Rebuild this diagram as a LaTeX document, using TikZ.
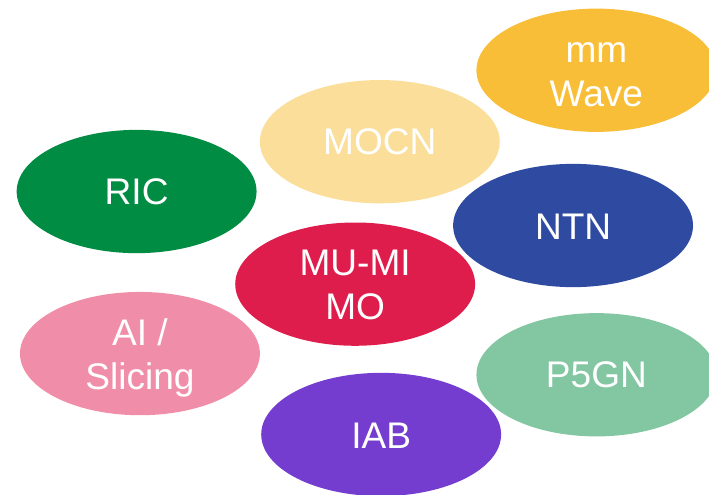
\documentclass[tikz,border=0pt]{standalone}
\usepackage{fontspec}
\setmainfont{Liberation Sans}
\usetikzlibrary{shapes.geometric}
\definecolor{cMm}{HTML}{F8BE37}
\definecolor{cMocn}{HTML}{FADE9A}
\definecolor{cRic}{HTML}{008C42}
\definecolor{cNtn}{HTML}{2F4BA1}
\definecolor{cMu}{HTML}{DF1D4D}
\definecolor{cAi}{HTML}{F08EA9}
\definecolor{cP}{HTML}{82C6A2}
\definecolor{cIab}{HTML}{743DCF}
\tikzset{blob/.style={ellipse,draw=none,minimum width=180pt,minimum height=92.5pt,inner sep=0pt},
 txt/.style={inner sep=0pt,text=white,align=center,font=\fontsize{27.8pt}{33pt}\selectfont}}
\begin{document}
\begin{tikzpicture}[x=1pt,y=-1pt]
\useasboundingbox (0,0) rectangle (532,370.7);
\node[blob,fill=cMm,label={[txt,yshift=-3.4pt]center:mm\\Wave}] (mm) at (447.5,52.7) {};
\node[blob,fill=cMocn,label={[txt,yshift=-0.4pt]center:MOCN}] (mocn) at (285,106.3) {};
\node[blob,fill=cRic,label={[txt,yshift=-0.3pt]center:RIC}] (ric) at (102.5,143.7) {};
\node[blob,fill=cNtn,label={[txt,yshift=-0.6pt]center:NTN}] (ntn) at (430,169.2) {};
\node[blob,fill=cMu,label={[txt,yshift=-0.5pt]center:MU-MI\\MO}] (mu) at (266.5,213.2) {};
\node[blob,fill=cAi,label={[txt,yshift=-3pt]center:AI /\\Slicing}] (ai) at (105,265.3) {};
\node[blob,fill=cP,label={[txt,yshift=0pt]center:P5GN}] (p) at (447.5,281.2) {};
\node[blob,fill=cIab,label={[txt,yshift=-0.6pt]center:IAB}] (iab) at (286,326) {};
\end{tikzpicture}
\end{document}
